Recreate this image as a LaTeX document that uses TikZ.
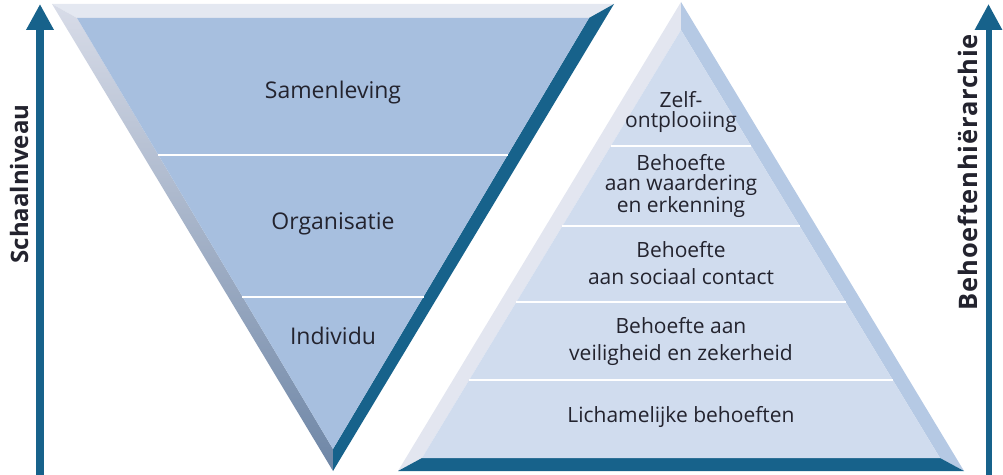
\documentclass[tikz,border=0pt]{standalone}
\usepackage{fontspec}
\setmainfont{Open Sans}
\usetikzlibrary{arrows.meta}
\definecolor{darkbev}{HTML}{17628B}
\definecolor{topbev}{HTML}{E4E8F1}
\definecolor{lbevtop}{HTML}{D8DCE8}
\definecolor{lbevbot}{HTML}{6E86A6}
\definecolor{facea}{HTML}{A7BFDF}
\definecolor{faceb}{HTML}{D0DCEE}
\definecolor{pyrleft}{HTML}{E3E6F0}
\definecolor{pyrright}{HTML}{B5C9E4}
\definecolor{txt}{HTML}{23232E}
\tikzset{
  lbl/.style={text=txt, font=\fontsize{23bp}{27bp}\selectfont, align=center, inner sep=0pt},
  plbl/.style={text=txt, font=\fontsize{21bp}{27bp}\selectfont, align=center, inner sep=0pt},
  axlbl/.style={text=txt, font=\bfseries\fontsize{24bp}{28bp}\selectfont, rotate=90, inner sep=0pt},
  divider/.style={white, line width=2.6bp},
  axarrow/.style={darkbev, -{Triangle[length=26bp,width=26bp]}}
}
\begin{document}
\begin{tikzpicture}[x=1bp,y=-1bp]
\useasboundingbox (0,0) rectangle (1003,475);
% ---------- left inverted triangle ----------
\coordinate (O1) at (52,4);
\coordinate (O2) at (614,4);
\coordinate (O3) at (333,471);
\coordinate (I1) at (77,18);
\coordinate (I2) at (589,18);
\coordinate (I3) at (333,449);
\fill[topbev] (O1) -- (O2) -- (I2) -- (I1) -- cycle;
\shade[top color=lbevtop, bottom color=lbevbot] (O1) -- (I1) -- (I3) -- (O3) -- cycle;
\fill[darkbev] (O2) -- (O3) -- (I3) -- (I2) -- cycle;
\fill[facea] (I1) -- (I2) -- (I3) -- cycle;
\draw[divider] (158,155) -- (508,155);
\draw[divider] (242,297) -- (424,297);
\node[lbl] (samen) at (333,93) {Samenleving};
\node[lbl] (organ) at (333,224) {Organisatie};
\node[lbl] (indiv) at (333,336) {Individu};
% ---------- right pyramid ----------
\coordinate (P0) at (681,2);
\coordinate (BL) at (398,471);
\coordinate (BR) at (964,471);
\coordinate (Q0) at (681,30);
\coordinate (QL) at (422,458);
\coordinate (QR) at (940,458);
\fill[pyrleft] (P0) -- (BL) -- (QL) -- (Q0) -- cycle;
\fill[pyrright] (P0) -- (Q0) -- (QR) -- (BR) -- cycle;
\fill[darkbev] (QL) -- (QR) -- (BR) -- (BL) -- cycle;
\fill[faceb] (Q0) -- (QL) -- (QR) -- cycle;
\draw[divider] (611,146) -- (751,146);
\draw[divider] (562,226) -- (800,226);
\draw[divider] (516,302) -- (846,302);
\draw[divider] (469,380) -- (893,380);
\node[plbl, font=\fontsize{21bp}{19.5bp}\selectfont] (zelf) at (681,112) {Zelf-\\ontplooiing};
\node[plbl, font=\fontsize{21bp}{20.5bp}\selectfont] (waard) at (681,186) {Behoefte\\aan waardering\\en erkenning};
\node[plbl] (sociaal) at (681,263) {Behoefte\\aan sociaal contact};
\node[plbl] (veilig) at (681,341) {Behoefte aan\\veiligheid en zekerheid};
\node[plbl] (licham) at (681,417) {Lichamelijke behoeften};
% ---------- axes ----------
\coordinate (la0) at (40,475);
\coordinate (la1) at (40,4);
\draw[axarrow, line width=8bp] (la0) -- (la1);
\coordinate (ra0) at (988.5,475);
\coordinate (ra1) at (988.5,4);
\draw[axarrow, line width=6bp] (ra0) -- (ra1);
\node[axlbl] (schaal) at (19,184) {Schaalniveau};
\node[axlbl, font=\bfseries\fontsize{25.5bp}{30bp}\selectfont\addfontfeature{LetterSpace=3}] (behoef) at (968,172) {Behoeftenhiërarchie};
\end{tikzpicture}
\end{document}
